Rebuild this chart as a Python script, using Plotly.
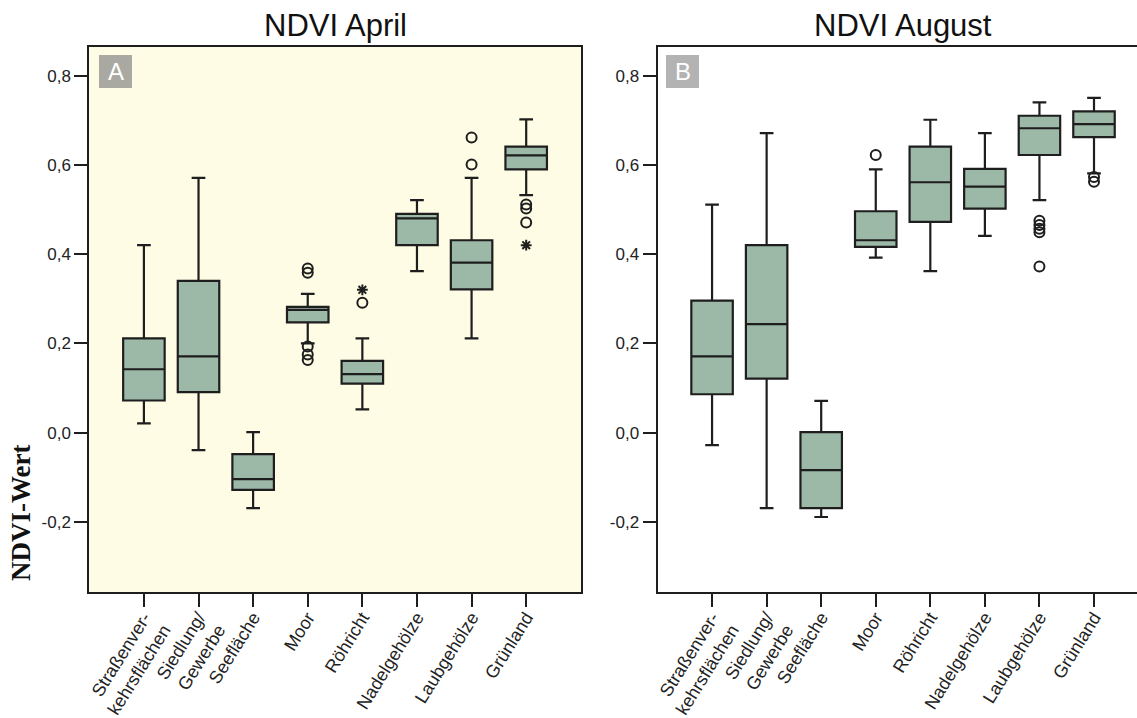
import plotly.graph_objects as go

W, H = 1137, 718

categories = ["Straßenver-<br>kehrsflächen", "Siedlung/<br>Gewerbe", "Seefläche", "Moor",
              "Röhricht", "Nadelgehölze", "Laubgehölze", "Grünland"]
y_tickvals = [-0.2, 0.0, 0.2, 0.4, 0.6, 0.8]
y_ticktext = ["-0,2", "0,0", "0,2", "0,4", "0,6", "0,8"]

# NDVI April
apr_low = [0.021, -0.039, -0.169, 0.200, 0.052, 0.362, 0.211, 0.532]
apr_q1 = [0.072, 0.091, -0.128, 0.247, 0.110, 0.420, 0.321, 0.590]
apr_med = [0.142, 0.171, -0.104, 0.275, 0.131, 0.480, 0.381, 0.621]
apr_q3 = [0.211, 0.340, -0.048, 0.282, 0.161, 0.490, 0.431, 0.641]
apr_high = [0.420, 0.571, 0.001, 0.311, 0.211, 0.521, 0.571, 0.702]
apr_out_cat = [3, 3, 3, 3, 3, 4, 6, 6, 7, 7, 7]
apr_out_val = [0.368, 0.358, 0.193, 0.175, 0.163, 0.291, 0.661, 0.601, 0.511, 0.502, 0.471]
apr_ext_cat = [4, 7]
apr_ext_val = [0.320, 0.420]

# NDVI August
aug_low = [-0.028, -0.169, -0.189, 0.392, 0.362, 0.441, 0.521, 0.581]
aug_q1 = [0.086, 0.121, -0.169, 0.416, 0.472, 0.502, 0.622, 0.662]
aug_med = [0.171, 0.243, -0.084, 0.431, 0.561, 0.551, 0.682, 0.691]
aug_q3 = [0.296, 0.420, 0.001, 0.496, 0.641, 0.591, 0.710, 0.720]
aug_high = [0.511, 0.671, 0.071, 0.590, 0.701, 0.671, 0.740, 0.750]
aug_out_cat = [3, 6, 6, 6, 6, 6, 7, 7]
aug_out_val = [0.622, 0.475, 0.465, 0.457, 0.449, 0.372, 0.573, 0.562]

BOX_FILL = "#9cb9a7"
LINE = "#1e1e1e"
pos = list(range(len(categories)))


def px_x(p):
    return p / W


def px_y(p):
    return 1 - p / H


fig = go.Figure()


def add_panel(xa, ya, low, q1, med, q3, high, oc, ov, ec=None, ev=None):
    fig.add_trace(go.Box(
        x=pos, q1=q1, median=med, q3=q3, lowerfence=low, upperfence=high,
        width=0.76, whiskerwidth=0.33, fillcolor=BOX_FILL,
        line=dict(color=LINE, width=2.2), boxpoints=False,
        xaxis=xa, yaxis=ya, showlegend=False, hoverinfo="skip"))
    fig.add_trace(go.Scatter(
        x=oc, y=ov, mode="markers", xaxis=xa, yaxis=ya, showlegend=False,
        marker=dict(symbol="circle-open", size=10, color=LINE, line=dict(width=2, color=LINE))))
    if ec:
        fig.add_trace(go.Scatter(
            x=ec, y=ev, mode="markers", xaxis=xa, yaxis=ya, showlegend=False,
            marker=dict(symbol="asterisk-open", size=9, color=LINE, line=dict(width=2, color=LINE))))


add_panel("x", "y", apr_low, apr_q1, apr_med, apr_q3, apr_high, apr_out_cat, apr_out_val,
          apr_ext_cat, apr_ext_val)
add_panel("x2", "y2", aug_low, aug_q1, aug_med, aug_q3, aug_high, aug_out_cat, aug_out_val)

ytickfont = dict(family="Liberation Sans, Arial, sans-serif", size=17, color="#222")
xtickfont = dict(family="Liberation Sans, Arial, sans-serif", size=18, color="#222")
yrange = [-0.357, 0.864]
common_x = dict(tickmode="array", tickvals=pos, ticktext=categories, tickangle=-58,
                ticks="outside", ticklen=13, tickwidth=2, tickcolor=LINE,
                showline=True, linewidth=2, linecolor=LINE, showgrid=False, zeroline=False,
                tickfont=xtickfont, fixedrange=True, automargin=False, ticklabelstandoff=-7)
common_y = dict(tickmode="array", tickvals=y_tickvals, ticktext=y_ticktext, range=yrange,
                ticks="outside", ticklen=13, tickwidth=2, tickcolor=LINE,
                showline=True, linewidth=2, linecolor=LINE, showgrid=False, zeroline=False,
                tickfont=ytickfont, domain=[px_y(592), px_y(47)], automargin=False)

fig.update_layout(
    width=W, height=H, margin=dict(l=0, r=0, t=0, b=0, autoexpand=False),
    paper_bgcolor="white", plot_bgcolor="white",
    xaxis=dict(common_x, domain=[px_x(89.3), px_x(580.8)], range=[-1, 8], mirror=True, anchor="y"),
    yaxis=dict(common_y, mirror=True, anchor="x"),
    xaxis2=dict(common_x, domain=[px_x(657.5), 1.0], range=[-1, 7.788], mirror=True, anchor="y2"),
    yaxis2=dict(common_y, mirror=False, anchor="x2"),
    shapes=[
        dict(type="rect", xref="x domain", yref="y domain", x0=0, x1=1, y0=0, y1=1,
             fillcolor="#fefce4", line=dict(width=0), layer="below"),
        dict(type="rect", xref="paper", yref="paper", x0=px_x(99), x1=px_x(132),
             y0=px_y(88), y1=px_y(55), fillcolor="#a9a9a1", line=dict(width=0)),
        dict(type="rect", xref="paper", yref="paper", x0=px_x(666), x1=px_x(699),
             y0=px_y(88), y1=px_y(55), fillcolor="#b3b3b3", line=dict(width=0)),
    ],
    annotations=[
        dict(text="NDVI April", x=px_x(335), y=px_y(25), xref="paper", yref="paper",
             showarrow=False, xanchor="center", yanchor="middle",
             font=dict(family="Liberation Sans, Arial, sans-serif", size=31, color="#111")),
        dict(text="NDVI August", x=px_x(903), y=px_y(25), xref="paper", yref="paper",
             showarrow=False, xanchor="center", yanchor="middle",
             font=dict(family="Liberation Sans, Arial, sans-serif", size=31, color="#111")),
        dict(text="<b>NDVI-Wert</b>", x=px_x(21), y=px_y(513), xref="paper", yref="paper",
             showarrow=False, xanchor="center", yanchor="middle", textangle=-90,
             font=dict(family="Liberation Serif, Times New Roman, serif", size=27, color="#111")),
        dict(text="A", x=px_x(115.5), y=px_y(71.5), xref="paper", yref="paper",
             showarrow=False, xanchor="center", yanchor="middle",
             font=dict(family="Liberation Sans, Arial, sans-serif", size=24, color="white")),
        dict(text="B", x=px_x(682.5), y=px_y(71.5), xref="paper", yref="paper",
             showarrow=False, xanchor="center", yanchor="middle",
             font=dict(family="Liberation Sans, Arial, sans-serif", size=24, color="white")),
    ],
)

fig.write_html("out.html")
